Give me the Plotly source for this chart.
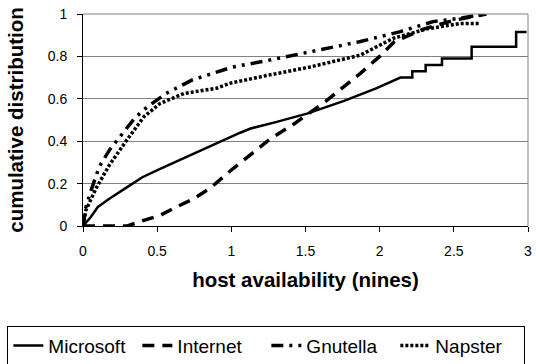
import plotly.graph_objects as go

# ---- data ----
ms_x = [0, 0.05, 0.1, 0.18, 0.29, 0.4, 0.52, 0.74, 0.97, 1.06, 1.13, 1.19, 1.3, 1.51, 1.76, 1.98, 2.14, 2.22, 2.22, 2.31, 2.31, 2.42, 2.42, 2.62, 2.62, 2.92, 2.92, 2.99]
ms_y = [0, 0.04, 0.09, 0.13, 0.18, 0.23, 0.27, 0.34, 0.41, 0.44, 0.46, 0.47, 0.49, 0.53, 0.59, 0.65, 0.70, 0.70, 0.73, 0.73, 0.76, 0.76, 0.79, 0.79, 0.845, 0.845, 0.915, 0.915]

in_x = [0, 0.3, 0.38, 0.52, 0.63, 0.75, 0.86, 1.01, 1.19, 1.26, 1.42, 1.64, 1.87, 2.0, 2.1, 2.3, 2.5, 2.72]
in_y = [0, 0.0, 0.02, 0.05, 0.09, 0.13, 0.18, 0.27, 0.37, 0.41, 0.48, 0.59, 0.72, 0.80, 0.87, 0.93, 0.97, 1.0]

gn_x = [0, 0.02, 0.06, 0.11, 0.18, 0.27, 0.35, 0.43, 0.56, 0.74, 1.01, 1.24, 1.45, 1.64, 1.87, 2.14, 2.36, 2.54, 2.72]
gn_y = [0, 0.09, 0.18, 0.28, 0.36, 0.44, 0.51, 0.56, 0.625, 0.69, 0.75, 0.78, 0.81, 0.84, 0.87, 0.917, 0.964, 0.98, 1.0]

np_x = [0, 0.02, 0.09, 0.18, 0.29, 0.41, 0.52, 0.68, 0.9, 1.0, 1.24, 1.53, 1.87, 2.09, 2.32, 2.54, 2.68]
np_y = [0, 0.075, 0.18, 0.29, 0.40, 0.515, 0.578, 0.625, 0.65, 0.675, 0.71, 0.75, 0.806, 0.885, 0.93, 0.955, 0.955]

x_ticks = [0, 0.5, 1, 1.5, 2, 2.5, 3]
x_tick_text = ["0", "0.5", "1", "1.5", "2", "2.5", "3"]
y_ticks = [0, 0.2, 0.4, 0.6, 0.8, 1]
y_tick_text = ["0", "0.2", "0.4", "0.6", "0.8", "1"]

FONT = "Liberation Sans, Arial, sans-serif"

fig = go.Figure()
fig.add_trace(go.Scatter(x=ms_x, y=ms_y, mode="lines", name="Microsoft",
                         line=dict(color="black", width=2.5)))
fig.add_trace(go.Scatter(x=in_x, y=in_y, mode="lines", name="Internet",
                         line=dict(color="black", width=3.5, dash="12px,8px")))
fig.add_trace(go.Scatter(x=gn_x, y=gn_y, mode="lines", name="Gnutella",
                         line=dict(color="black", width=3.5, dash="12px,6px,3px,6px,3px,6px")))
fig.add_trace(go.Scatter(x=np_x, y=np_y, mode="lines", name="Napster",
                         line=dict(color="black", width=3.5, dash="3px,2px")))

fig.update_layout(
    width=536, height=364,
    margin=dict(l=83, r=8, t=14, b=138, autoexpand=False),
    paper_bgcolor="white", plot_bgcolor="white",
    font=dict(family=FONT, color="black", size=14),
    showlegend=True,
    legend=dict(orientation="h", x=-0.17, y=-0.47, xanchor="left", yanchor="top",
                bordercolor="black", borderwidth=1, bgcolor="white",
                font=dict(size=19, family=FONT), entrywidth=84, entrywidthmode="pixels",
                tracegroupgap=0),
    xaxis=dict(range=[0, 3], tickmode="array", tickvals=x_ticks, ticktext=x_tick_text,
               showgrid=False, zeroline=False, showline=True, linecolor="black", linewidth=1,
               ticks="outside", ticklen=5, tickcolor="black", ticklabelstandoff=7,
               tickfont=dict(size=14),
               title=dict(text="<b>host availability (nines)</b>", font=dict(size=20.5), standoff=14),
               mirror=False),
    yaxis=dict(range=[0, 1], tickmode="array", tickvals=y_ticks, ticktext=y_tick_text,
               showgrid=True, gridcolor="#808080", gridwidth=1, zeroline=False,
               showline=True, linecolor="black", linewidth=1,
               ticks="outside", ticklen=5, tickcolor="black", ticklabelstandoff=7,
               tickfont=dict(size=14),
               title=dict(text="<b>cumulative distribution</b>", font=dict(size=20.5), standoff=18)),
)
# gray frame on top and right (plot border)
fig.add_shape(type="line", xref="paper", yref="paper", x0=0, x1=1, y0=1, y1=1,
              line=dict(color="#808080", width=1))
fig.add_shape(type="line", xref="paper", yref="paper", x0=1, x1=1, y0=0, y1=1,
              line=dict(color="#808080", width=1))

fig.write_html("out.html")
